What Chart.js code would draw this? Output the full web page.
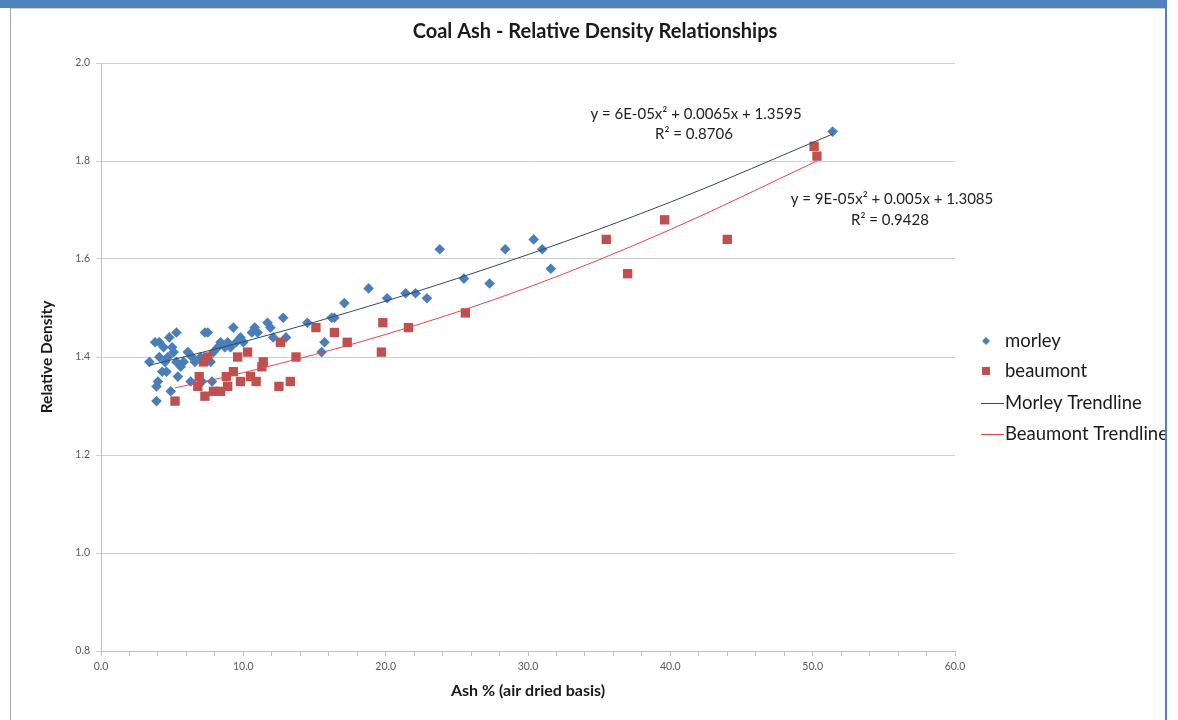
<!DOCTYPE html>
<html><head><meta charset="utf-8">
<script src="https://cdn.jsdelivr.net/npm/chart.js@4.4.0/dist/chart.umd.min.js"></script>
<style>
html,body{margin:0;padding:0;background:#fff;width:1178px;height:720px;overflow:hidden;}
#topbar{position:absolute;left:0;top:0;width:1167px;height:8px;background:#4F81BD;}
#topline{position:absolute;left:10px;top:8px;width:1155px;height:1px;background:#cfcfcf;}
#leftline{position:absolute;left:10px;top:8px;width:1px;height:712px;background:#a6a6a6;}
#rightline{position:absolute;left:1165px;top:0;width:2px;height:720px;background:#4F81BD;}
#wrap{position:absolute;left:0;top:0;width:1165px;height:720px;overflow:hidden;}
</style></head>
<body>
<div id="wrap"><canvas id="c" width="1165" height="720"></canvas></div>
<div id="topbar"></div><div id="topline"></div><div id="leftline"></div><div id="rightline"></div>
<script>
const chartTitle = "Coal Ash - Relative Density Relationships";
const xTitle = "Ash % (air dried basis)";
const yTitle = "Relative Density";

const morleyAsh = [3.4,3.8,3.9,4.0,3.9,4.1,4.1,4.3,4.4,4.5,4.6,4.7,4.8,4.9,5.0,5.1,5.3,5.3,5.4,5.6,5.8,6.1,6.3,6.4,6.6,7.0,7.1,7.3,7.5,7.7,7.8,7.9,8.2,8.4,8.7,8.9,9.1,9.3,9.5,9.8,10.0,10.6,10.8,11.0,11.7,11.9,12.1,12.8,13.0,14.5,15.5,15.7,16.2,16.4,17.1,18.8,20.1,21.4,22.1,22.9,23.8,25.5,27.3,28.4,30.4,31.0,31.6,51.4];
const morleyDensity = [1.39,1.43,1.34,1.35,1.31,1.40,1.43,1.37,1.42,1.39,1.37,1.40,1.44,1.33,1.42,1.41,1.45,1.39,1.36,1.38,1.39,1.41,1.35,1.40,1.39,1.40,1.35,1.45,1.45,1.39,1.35,1.41,1.42,1.43,1.42,1.43,1.42,1.46,1.43,1.44,1.43,1.45,1.46,1.45,1.47,1.46,1.44,1.48,1.44,1.47,1.41,1.43,1.48,1.48,1.51,1.54,1.52,1.53,1.53,1.52,1.62,1.56,1.55,1.62,1.64,1.62,1.58,1.86];

const beaumontAsh = [5.2,6.8,6.9,7.2,7.3,7.5,7.9,8.4,8.8,8.9,9.3,9.6,9.8,10.3,10.5,10.9,11.3,11.4,12.5,12.6,13.3,13.7,15.1,16.4,17.3,19.7,19.8,21.6,25.6,35.5,37.0,39.6,44.0,50.1,50.3];
const beaumontDensity = [1.31,1.34,1.36,1.39,1.32,1.40,1.33,1.33,1.36,1.34,1.37,1.40,1.35,1.41,1.36,1.35,1.38,1.39,1.34,1.43,1.35,1.40,1.46,1.45,1.43,1.41,1.47,1.46,1.49,1.64,1.57,1.68,1.64,1.83,1.81];

const morleyTrendAsh = [3.4,10,20,30,40,51.4];
const morleyTrendDensity = [1.383,1.431,1.514,1.609,1.716,1.855];
const beaumontTrendAsh = [5.2,10,20,30,40,50.3];
const beaumontTrendDensity = [1.337,1.368,1.446,1.542,1.660,1.800];

const morleyEquation = ["y = 6E-05x\u00b2 + 0.0065x + 1.3595", "R\u00b2 = 0.8706"];
const beaumontEquation = ["y = 9E-05x\u00b2 + 0.005x + 1.3085", "R\u00b2 = 0.9428"];

const seriesNames = ["morley","beaumont","Morley Trendline","Beaumont Trendline"];

const toXY = (xs, ys) => xs.map((x, i) => ({x, y: ys[i]}));
const FONT = "Lato, 'Open Sans', sans-serif";

const overlay = {
  id: 'overlay',
  afterDraw(chart) {
    const ctx = chart.ctx;
    ctx.save();
    // title
    ctx.fillStyle = '#1a1a1a';
    ctx.font = "bold 20px " + FONT;
    ctx.textAlign = 'center'; ctx.textBaseline = 'middle';
    ctx.fillText(chartTitle, 595, 32);
    // equations
    ctx.font = "15px " + FONT;
    ctx.fillStyle = '#222';
    ctx.fillText(morleyEquation[0], 696, 114);
    ctx.fillText(morleyEquation[1], 694, 134);
    ctx.fillText(beaumontEquation[0], 892, 199);
    ctx.fillText(beaumontEquation[1], 890, 220);
    // legend
    ctx.textAlign = 'left';
    ctx.font = "18.5px " + FONT;
    const ys = [341, 371, 403, 434];
    chart.data.datasets.forEach((ds, i) => {
      const y = ys[i];
      if (ds.showLine) {
        ctx.strokeStyle = ds.borderColor; ctx.lineWidth = 1;
        ctx.beginPath(); ctx.moveTo(981, y + 0.5); ctx.lineTo(1004, y + 0.5); ctx.stroke();
      } else if (ds.pointStyle === 'rectRot') {
        ctx.fillStyle = ds.backgroundColor;
        ctx.beginPath(); ctx.moveTo(986, y - 4); ctx.lineTo(990, y); ctx.lineTo(986, y + 4); ctx.lineTo(982, y); ctx.closePath(); ctx.fill();
      } else {
        ctx.fillStyle = ds.backgroundColor;
        ctx.fillRect(982, y - 4, 8, 8);
      }
      ctx.fillStyle = '#1a1a1a';
      ctx.fillText(ds.label, 1005, y);
    });
    ctx.restore();
  }
};

new Chart(document.getElementById('c'), {
  type: 'scatter',
  data: {
    datasets: [
      { label: seriesNames[0], data: toXY(morleyAsh, morleyDensity), pointStyle: 'rectRot', pointRadius: 5.3, pointHoverRadius: 5.3,
        backgroundColor: '#4A7EBB', borderColor: '#4A7EBB', pointBorderWidth: 0, showLine: false, order: 2 },
      { label: seriesNames[1], data: toXY(beaumontAsh, beaumontDensity), pointStyle: 'rect', pointRadius: 6.6, pointHoverRadius: 6.6,
        backgroundColor: '#C0504D', borderColor: '#C0504D', pointBorderWidth: 0, showLine: false, order: 1 },
      { label: seriesNames[2], data: toXY(morleyTrendAsh, morleyTrendDensity), showLine: true, pointRadius: 0,
        borderColor: '#34495E', borderWidth: 1, cubicInterpolationMode: 'monotone', order: 0 },
      { label: seriesNames[3], data: toXY(beaumontTrendAsh, beaumontTrendDensity), showLine: true, pointRadius: 0,
        borderColor: '#E8454D', borderWidth: 1, cubicInterpolationMode: 'monotone', order: 0 }
    ]
  },
  options: {
    responsive: false, animation: false,
    layout: { padding: { left: 0, top: 63, right: 210, bottom: 0 } },
    plugins: { legend: { display: false }, title: { display: false }, tooltip: { enabled: false } },
    scales: {
      x: {
        type: 'linear', min: 0, max: 60,
        afterFit(s) { s.height = 69; },
        ticks: { stepSize: 2, autoSkip: false, maxRotation: 0, padding: 4, color: '#595959', font: { family: FONT, size: 10.5 },
          callback: v => (Math.round(v) % 10 === 0 ? Number(v).toFixed(1) : '') },
        grid: { drawOnChartArea: false, tickLength: 5, color: '#bfbfbf' },
        border: { color: '#bfbfbf' },
        title: { display: true, text: xTitle, color: '#1a1a1a', font: { family: FONT, size: 16, weight: 'bold' }, padding: { top: 0, bottom: 20 } }
      },
      y: {
        type: 'linear', min: 0.8, max: 2.0,
        afterFit(s) { s.width = 101; },
        ticks: { stepSize: 0.2, padding: 6, color: '#595959', font: { family: FONT, size: 10.5 }, callback: v => Number(v).toFixed(1) },
        grid: { tickLength: 5, color: '#cfcfcf' },
        border: { color: '#bfbfbf' },
        title: { display: true, text: yTitle, color: '#1a1a1a', font: { family: FONT, size: 15.5, weight: 'bold' }, padding: { top: 38, bottom: 0 } }
      }
    }
  },
  plugins: [overlay]
});
</script>
</body></html>
